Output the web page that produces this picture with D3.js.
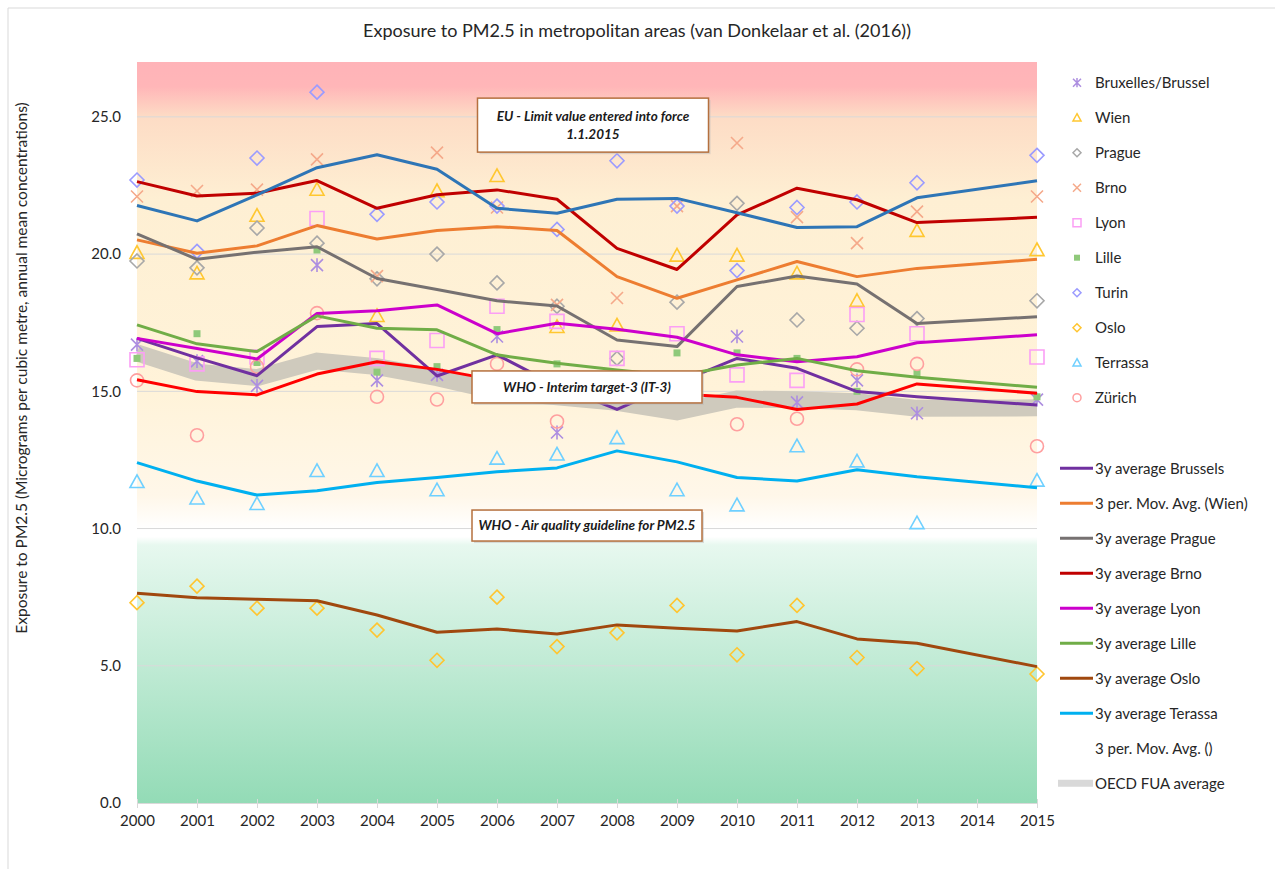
<!DOCTYPE html>
<html><head><meta charset="utf-8">
<script src="https://cdn.jsdelivr.net/npm/d3@7"></script>
<style>
body{margin:0;background:#fff;}
svg{display:block;font-family:Lato,"Open Sans","Noto Sans",sans-serif;}
</style>
</head><body>
<svg id="chart" width="1275" height="869"></svg>
<script>
// ---------- DATA ----------
const years = [2000,2001,2002,2003,2004,2005,2006,2007,2008,2009,2010,2011,2012,2013,2014,2015];
const yTicks = [0,5,10,15,20,25];
const title = "Exposure to PM2.5 in metropolitan areas (van Donkelaar et al. (2016))";
const yTitle = "Exposure to PM2.5 (Micrograms per cubic metre, annual mean concentrations)";

// city observations (2014 missing)
const brussels = [16.7,16.1,15.2,19.6,15.4,15.6,17.0,13.5,15.0,15.2,17.0,14.6,15.4,14.2,null,14.7];
const wien     = [20.05,19.3,21.4,22.35,17.75,22.3,22.85,17.35,17.4,19.95,19.95,19.3,18.3,20.85,null,20.15];
const prague   = [19.75,19.5,20.95,20.4,19.1,20.0,18.95,18.1,16.2,18.25,21.85,17.6,17.3,17.65,null,18.3];
const brno     = [22.1,22.3,22.35,23.45,19.2,23.7,21.7,18.15,18.4,21.75,24.05,21.35,20.4,21.55,null,22.1];
const lyon     = [16.15,16.0,16.25,21.3,16.2,16.85,18.1,17.55,16.2,17.1,15.6,15.4,17.8,17.1,null,16.25];
const lille    = [16.2,17.1,16.05,20.15,15.7,15.9,17.25,16.0,15.5,16.4,16.4,16.2,15.0,15.65,null,14.8];
const turin    = [22.7,20.1,23.5,25.9,21.45,21.9,21.75,20.9,23.4,21.75,19.4,21.7,21.9,22.6,null,23.6];
const oslo     = [7.3,7.9,7.1,7.1,6.3,5.2,7.5,5.7,6.2,7.2,5.4,7.2,5.3,4.9,null,4.7];
const terrassa = [11.7,11.1,10.9,12.1,12.1,11.4,12.55,12.7,13.3,11.4,10.85,13.0,12.45,10.2,null,11.75];
const zurich   = [15.4,13.4,15.9,17.85,14.8,14.7,16.0,13.9,15.0,15.3,13.8,14.0,15.8,16.0,null,13.0];

// 3-year averages
const avgBrussels = [16.93,16.22,15.57,17.36,17.47,15.56,16.33,15.2,14.34,15.3,16.2,15.84,14.99,14.8,null,14.5];
const avgWien     = [20.52,20.03,20.3,21.04,20.55,20.86,21.0,20.86,19.18,18.39,19.06,19.73,19.18,19.48,null,19.81];
const avgPrague   = [20.74,19.81,20.07,20.27,19.11,18.71,18.3,18.11,16.87,16.63,18.82,19.2,18.91,17.47,null,17.72];
const avgBrno     = [22.64,22.12,22.22,22.68,21.67,22.16,22.34,22.0,20.21,19.44,21.43,22.4,21.98,21.15,null,21.34];
const avgLyon     = [16.93,16.56,16.18,17.84,17.94,18.15,17.1,17.48,17.26,16.97,16.33,16.08,16.26,16.77,null,17.06];
const avgLille    = [17.42,16.73,16.45,17.75,17.3,17.24,16.33,16.02,15.78,15.56,15.96,16.2,15.75,15.51,null,15.15];
const avgOslo     = [7.64,7.48,7.42,7.37,6.85,6.22,6.34,6.16,6.49,6.37,6.27,6.61,5.98,5.82,null,4.97];
const avgTerrassa = [12.4,11.73,11.22,11.38,11.68,11.86,12.07,12.21,12.83,12.43,11.86,11.73,12.14,11.89,null,11.49];
const avgTurin    = [21.77,21.21,22.16,23.15,23.62,23.09,21.67,21.49,22.0,22.03,21.51,20.97,21.0,22.05,null,22.67];
const avgZurich   = [15.42,14.99,14.87,15.63,16.08,15.8,15.4,15.1,14.95,14.9,14.78,14.34,14.54,15.27,null,14.93];
const oecdAvg     = [16.4,15.7,15.5,16.1,15.9,15.5,15.0,14.8,14.6,14.25,14.72,14.69,14.62,14.38,null,14.4];

// annotations (year centre, value centre)
const notes = [
  {lines:["EU - Limit value entered into force","1.1.2015"], year:2007.6, value:24.7, w:231, h:54},
  {lines:["WHO - Interim target-3 (IT-3)"], year:2007.5, value:15.16, w:230, h:32},
  {lines:["WHO - Air quality guideline for PM2.5"], year:2007.5, value:10.11, w:230, h:31}
];

// ---------- SETUP ----------
const svg = d3.select("#chart");
const L = 137, R = 1037, T = 62, B = 803;
const x = d3.scaleLinear().domain([2000,2015]).range([L,R]);
const y = d3.scaleLinear().domain([0,27]).range([B,T]);
const pts = arr => years.map((yr,i)=>({yr, v:arr[i]})).filter(d=>d.v!=null);

// frame
svg.append("path").attr("d","M8,869 L8,8 L1275,8").attr("fill","none").attr("stroke","#d9d9d9").attr("stroke-width",1);

// background gradient
const defs = svg.append("defs");
const g = defs.append("linearGradient").attr("id","bg").attr("x1",0).attr("y1",0).attr("x2",0).attr("y2",1);
const pos = v => (y(v)-T)/(B-T);
[[27,"#ffb3b8"],[26.1,"#ffb6b8"],[25,"#fddcc5"],[22,"#feefd3"],[15,"#fff3d9"],[11.2,"#fff7e9"],[10,"#ffffff"],[9.7,"#ffffff"],[9.4,"#e7f8ef"],[0,"#93dbb6"]]
  .forEach(([v,c])=>g.append("stop").attr("offset",pos(v)).attr("stop-color",c));
svg.append("rect").attr("x",L).attr("y",T).attr("width",R-L).attr("height",B-T).attr("fill","url(#bg)");

// gridlines
svg.append("g").selectAll("line").data(yTicks.filter(t=>t>0)).join("line")
  .attr("x1",L).attr("x2",R).attr("y1",d=>y(d)).attr("y2",d=>y(d))
  .attr("stroke","#d9d9d9").attr("stroke-width",1);

// axes
const yAxis = svg.append("g").attr("transform",`translate(${L},0)`)
  .call(d3.axisLeft(y).tickValues(yTicks).tickFormat(d3.format(".1f")).tickSize(0).tickPadding(16));
yAxis.select(".domain").remove();
yAxis.selectAll("text").attr("font-size",15).attr("fill","#262626").attr("font-family","Lato, sans-serif");

const xAxis = svg.append("g").attr("transform",`translate(0,${B})`)
  .call(d3.axisBottom(x).tickValues(years).tickFormat(d3.format("d")).tickSize(5).tickPadding(7));
xAxis.select(".domain").attr("stroke","#d9d9d9");
xAxis.selectAll(".tick line").attr("stroke","#d9d9d9").attr("y1",-4);
xAxis.selectAll("text").attr("font-size",15).attr("fill","#262626").attr("font-family","Lato, sans-serif");

// OECD band
const line = d3.line().x(d=>x(d.yr)).y(d=>y(d.v));
svg.append("path").datum(pts(oecdAvg)).attr("d",line).attr("fill","none")
  .attr("stroke","#cfcabd").attr("stroke-width",17);

// marker shapes
function shape(type, s){
  switch(type){
    case "diamond": return `M0,${-s}L${s},0L0,${s}L${-s},0Z`;
    case "triangle": return `M0,${-s}L${s},${s*0.8}L${-s},${s*0.8}Z`;
    case "square": return `M${-s},${-s}H${s}V${s}H${-s}Z`;
    case "x": return `M${-s},${-s}L${s},${s}M${-s},${s}L${s},${-s}`;
    case "star": return `M${-s},${-s}L${s},${s}M${-s},${s}L${s},${-s}M0,${-s*1.15}V${s*1.15}`;
    case "circle": return `M${s},0A${s},${s} 0 1,1 ${-s},0A${s},${s} 0 1,1 ${s},0Z`;
    case "fsquare": return `M${-s},${-s}H${s}V${s}H${-s}Z`;
  }
}
const pointSeries = [
  {name:"Bruxelles/Brussel", data:brussels, type:"star", color:"#ad8ee0", size:6},
  {name:"Wien", data:wien, type:"triangle", color:"#ffc730", size:7},
  {name:"Prague", data:prague, type:"diamond", color:"#a8a8a8", size:7},
  {name:"Brno", data:brno, type:"x", color:"#f5a98a", size:6},
  {name:"Lyon", data:lyon, type:"square", color:"#fb9ff5", size:7},
  {name:"Lille", data:lille, type:"fsquare", color:"#8fc97a", size:3.5},
  {name:"Turin", data:turin, type:"diamond", color:"#9b9bff", size:7},
  {name:"Oslo", data:oslo, type:"diamond", color:"#ffc530", size:7},
  {name:"Terrassa", data:terrassa, type:"triangle", color:"#6fd0ff", size:7},
  {name:"Zürich", data:zurich, type:"circle", color:"#ff9f9f", size:6.5}
];
const markG = svg.append("g");
pointSeries.forEach(s=>{
  markG.append("g").selectAll("path").data(pts(s.data)).join("path")
    .attr("transform",d=>`translate(${x(d.yr)},${y(d.v)})`)
    .attr("d",shape(s.type,s.size))
    .attr("fill",s.type==="fsquare"?s.color:"none")
    .attr("stroke",s.type==="fsquare"?"none":s.color)
    .attr("stroke-width",1.6);
});

// average lines
const lineSeries = [
  {name:"3y average Brussels", data:avgBrussels, color:"#7030a0"},
  {name:"3 per. Mov. Avg. (Wien)", data:avgWien, color:"#ed7d31"},
  {name:"3y average Prague", data:avgPrague, color:"#767171"},
  {name:"3y average Brno", data:avgBrno, color:"#c00000"},
  {name:"3y average Lyon", data:avgLyon, color:"#cc00cc"},
  {name:"3y average Lille", data:avgLille, color:"#70ad47"},
  {name:"3y average Oslo", data:avgOslo, color:"#a0480e"},
  {name:"3y average Terassa", data:avgTerrassa, color:"#00b0f0"},
  {name:"3 per. Mov. Avg. ()", data:avgTurin, color:"#2e75b6", legendColor:null},
  {name:"", data:avgZurich, color:"#ff0000", noLegend:true}
];
lineSeries.forEach(s=>{
  svg.append("path").datum(pts(s.data)).attr("d",line).attr("fill","none")
    .attr("stroke",s.color).attr("stroke-width",3).attr("stroke-linejoin","round");
});

// annotation boxes
notes.forEach(n=>{
  const cx = x(n.year), cy = y(n.value);
  const gg = svg.append("g");
  gg.append("rect").attr("x",cx-n.w/2+2).attr("y",cy-n.h/2+2).attr("width",n.w).attr("height",n.h).attr("fill","#bbb").attr("opacity",0.5);
  gg.append("rect").attr("x",cx-n.w/2).attr("y",cy-n.h/2).attr("width",n.w).attr("height",n.h)
    .attr("fill","#fff").attr("stroke","#b5703e").attr("stroke-width",1.5);
  const lh = 18, start = cy - (n.lines.length-1)*lh/2;
  n.lines.forEach((t,i)=>{
    gg.append("text").attr("x",cx).attr("y",start+i*lh).attr("dy","0.35em")
      .attr("text-anchor","middle").attr("font-size",13.5).attr("font-weight","bold").attr("font-style","italic")
      .attr("fill","#1a1a1a").text(t);
  });
});

// title
svg.append("text").attr("x",637).attr("y",37).attr("text-anchor","middle")
  .attr("font-size",18).attr("fill","#262626").text(title);
svg.append("text").attr("transform","translate(27,368) rotate(-90)").attr("text-anchor","middle")
  .attr("font-size",15.5).attr("fill","#262626").text(yTitle);

// legend: markers
const lg1 = svg.append("g");
pointSeries.forEach((s,i)=>{
  const ly = 82.7 + i*35;
  lg1.append("path").attr("transform",`translate(1077,${ly})`)
    .attr("d",shape(s.type, s.type==="fsquare"?3:4))
    .attr("fill",s.type==="fsquare"?s.color:"none")
    .attr("stroke",s.type==="fsquare"?"none":s.color).attr("stroke-width",1.5);
  lg1.append("text").attr("x",1095).attr("y",ly).attr("dy","0.35em")
    .attr("font-size",15).attr("fill","#262626").text(s.name);
});
// legend: lines
const lg2 = svg.append("g");
const legLines = lineSeries.filter(s=>!s.noLegend).concat([{name:"OECD FUA average", color:"#d9d9d9", band:true}]);
legLines.forEach((s,i)=>{
  const ly = 468.3 + i*35;
  if (s.legendColor !== null) {
    lg2.append("line").attr("x1",s.band?1058:1060).attr("x2",1093).attr("y1",ly).attr("y2",ly)
      .attr("stroke",s.color).attr("stroke-width",s.band?7:3);
  }
  lg2.append("text").attr("x",1095).attr("y",ly).attr("dy","0.35em")
    .attr("font-size",15).attr("fill","#262626").text(s.name);
});
</script>
</body></html>
